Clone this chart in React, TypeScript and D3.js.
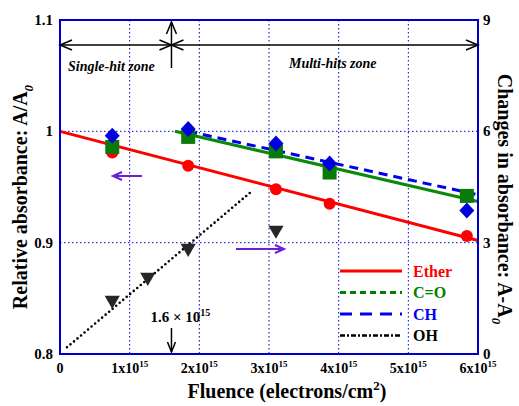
import React from 'react';
import * as d3 from 'd3';

// fluence in units of 1e15 electrons/cm2
const fluence = [0.75, 1.84, 3.1, 3.87, 5.84];
const ether = [0.981, 0.969, 0.948, 0.935, 0.906];
const carbonyl = [0.986, 0.995, 0.982, 0.963, 0.942];
const ch = [0.996, 1.002, 0.989, 0.971, 0.929];

const ohFluence = [0.75, 1.26, 1.84, 3.1];
const oh = [1.45, 2.07, 2.85, 3.34];

// fit line end points
const etherFitX = [0, 6];
const etherFitY = [1.0, 0.902];
const coFitX = [1.65, 6];
const coFitY = [1.0, 0.937];
const chFitX = [1.84, 6];
const chFitY = [1.0, 0.943];
const ohFitX = [0.1, 2.73];
const ohFitY = [0.18, 4.35];

const xTicks = [0, 1, 2, 3, 4, 5, 6];
const yTicks = [0.8, 0.9, 1, 1.1];
const y2Ticks = [0, 3, 6, 9];
const zoneEdge = 1.6;

const legendItems = ['Ether', 'C=O', 'CH', 'OH'];
const legendColors = ['#ff0000', '#008000', '#0000ee', '#000000'];
const legendDash = ['none', '6,4', '12,8', '5,2,2,2'];

const W = 519, H = 406;
const margin = { left: 60, right: 41, top: 20, bottom: 52 };
const FONT = '"Liberation Serif", "Times New Roman", serif';
const BLUE = '#0000cc';
const PURPLE = '#6a1fd8';

export default function App() {
  const x = d3.scaleLinear().domain([0, 6]).range([margin.left, W - margin.right]);
  const y = d3.scaleLinear().domain([0.8, 1.1]).range([H - margin.bottom, margin.top]);
  const y2 = d3.scaleLinear().domain([0, 9]).range([H - margin.bottom, margin.top]);

  const line = d3.line<[number, number]>().x(d => d[0]).y(d => d[1]);
  const fit = (xs: number[], ys: number[], sc: d3.ScaleLinear<number, number>) =>
    line(xs.map((v, i) => [x(v), sc(ys[i])]) as [number, number][]) || '';

  const x0 = x(0), x1 = x(6), yTop = y(1.1), yBot = y(0.8);
  const zx = x(zoneEdge);
  const zy = 45;

  // open arrowhead helper
  const head = (tx: number, ty: number, dx: number, dy: number, len = 12, w = 5) => {
    const px = -dy, py = dx;
    return `M${tx - dx * len + px * w},${ty - dy * len + py * w}L${tx},${ty}L${tx - dx * len - px * w},${ty - dy * len - py * w}`;
  };

  const diamond = 'M0,-8L7.5,0L0,8L-7.5,0Z';
  const tri = d3.symbol().type(d3.symbolTriangle).size(100);

  return (
    <svg width={W} height={H} style={{ position: 'absolute', left: 0, top: 0 }} fontFamily={FONT}>
      <rect width={W} height={H} fill="#fff" />

      {/* grid */}
      {xTicks.slice(1, -1).map(t => (
        <line key={'gx' + t} x1={x(t)} x2={x(t)} y1={yTop} y2={yBot} stroke={BLUE} strokeWidth={1} strokeDasharray="1.5,2.5" />
      ))}
      {[0.9, 1].map(t => (
        <line key={'gy' + t} x1={x0} x2={x1} y1={y(t)} y2={y(t)} stroke={BLUE} strokeWidth={1} strokeDasharray="1.5,2.5" />
      ))}

      {/* fit lines */}
      <path d={fit(etherFitX, etherFitY, y)} stroke="#ff0000" strokeWidth={3} fill="none" />
      <path d={fit(coFitX, coFitY, y)} stroke="#0a8a0a" strokeWidth={3} fill="none" />
      <path d={fit(chFitX, chFitY, y)} stroke="#0000ee" strokeWidth={3} fill="none" strokeDasharray="9,6" />
      <path d={fit(ohFitX, ohFitY, y2)} stroke="#000" strokeWidth={2.6} fill="none" strokeDasharray="0,4.6" strokeLinecap="round" />

      {/* markers */}
      {fluence.map((f, i) => (
        <circle key={'e' + i} cx={x(f)} cy={y(ether[i])} r={6} fill="#ff0000" />
      ))}
      {fluence.map((f, i) => (
        <rect key={'c' + i} x={x(f) - 7} y={y(carbonyl[i]) - 7} width={14} height={14} fill="#0a7a0a" />
      ))}
      {fluence.map((f, i) => (
        <path key={'h' + i} d={diamond} transform={`translate(${x(f)},${y(ch[i])})`} fill="#0000dd" />
      ))}
      {ohFluence.map((f, i) => (
        <path key={'o' + i} d={tri() || ''} transform={`translate(${x(f)},${y2(oh[i])}) rotate(180)`} fill="#262626" />
      ))}

      {/* frame */}
      <rect x={x0} y={yTop} width={x1 - x0} height={yBot - yTop} fill="none" stroke={BLUE} strokeWidth={2} />

      {/* zone arrows */}
      <g stroke="#000" strokeWidth={1.5} fill="none">
        <line x1={x0} x2={x1} y1={zy} y2={zy} />
        <path d={head(x0, zy, -1, 0)} />
        <path d={head(zx, zy, 1, 0)} />
        <path d={head(zx, zy, -1, 0)} />
        <path d={head(x1, zy, 1, 0)} />
        <line x1={zx} x2={zx} y1={68} y2={yTop + 2} />
        <path d={head(zx, yTop + 2, 0, -1, 12, 5)} />
        <line x1={zx} x2={zx} y1={328} y2={yBot - 2} />
        <path d={head(zx, yBot - 2, 0, 1, 10, 4)} />
      </g>
      <text x={68} y={71} fontSize={14} fontWeight="bold" fontStyle="italic">Single-hit zone</text>
      <text x={289} y={68} fontSize={14} fontWeight="bold" fontStyle="italic">Multi-hits zone</text>
      <text x={zx + 9} y={322} fontSize={15} fontWeight="bold" textAnchor="middle">
        1.6 × 10<tspan fontSize={10} dy={-6}>15</tspan>
      </text>

      {/* purple direction arrows */}
      <g stroke={PURPLE} strokeWidth={2} fill="none">
        <line x1={142} x2={113} y1={176} y2={176} />
        <path d={head(113, 176, -1, 0, 9, 4)} />
        <line x1={236} x2={284} y1={249} y2={249} />
        <path d={head(284, 249, 1, 0, 9, 4)} />
      </g>

      {/* legend */}
      {legendItems.map((name, i) => (
        <g key={name} transform={`translate(340,${271 + i * 21.5})`}>
          <line x1={0} x2={62} y1={0} y2={0} stroke={legendColors[i]} strokeWidth={i === 3 ? 2.5 : 3} strokeDasharray={legendDash[i]} />
          <text x={73} y={5.5} fontSize={16} fontWeight="bold" fill={legendColors[i]}>{name}</text>
        </g>
      ))}

      {/* x tick labels */}
      {xTicks.map(t => (
        <text key={'xt' + t} x={x(t)} y={373} fontSize={14} fontWeight="bold" textAnchor="middle">
          {t === 0 ? '0' : <>{t}x10<tspan fontSize={9} dy={-6}>15</tspan></>}
        </text>
      ))}
      {/* left ticks */}
      {yTicks.map(t => (
        <text key={'yt' + t} x={53} y={y(t) + 5} fontSize={15} fontWeight="bold" textAnchor="end">{d3.format('')(t)}</text>
      ))}
      {/* right ticks */}
      {y2Ticks.map(t => (
        <text key={'y2t' + t} x={483} y={y2(t) + 5} fontSize={15} fontWeight="bold">{t}</text>
      ))}

      {/* axis titles */}
      <text x={287} y={398} fontSize={20} fontWeight="bold" textAnchor="middle">
        Fluence (electrons/cm<tspan fontSize={13} dy={-8}>2</tspan><tspan dy={8}>)</tspan>
      </text>
      <text transform={`translate(27,${197}) rotate(-90)`} fontSize={20} fontWeight="bold" textAnchor="middle">
        Relative absorbance: A/A<tspan fontSize={13} fontStyle="italic" dy={6}>0</tspan>
      </text>
      <text transform={`translate(498,${199}) rotate(90)`} fontSize={20} fontWeight="bold" textAnchor="middle">
        Changes in absorbance: A-A<tspan fontSize={13} fontStyle="italic" dy={6}>0</tspan>
      </text>
    </svg>
  );
}
